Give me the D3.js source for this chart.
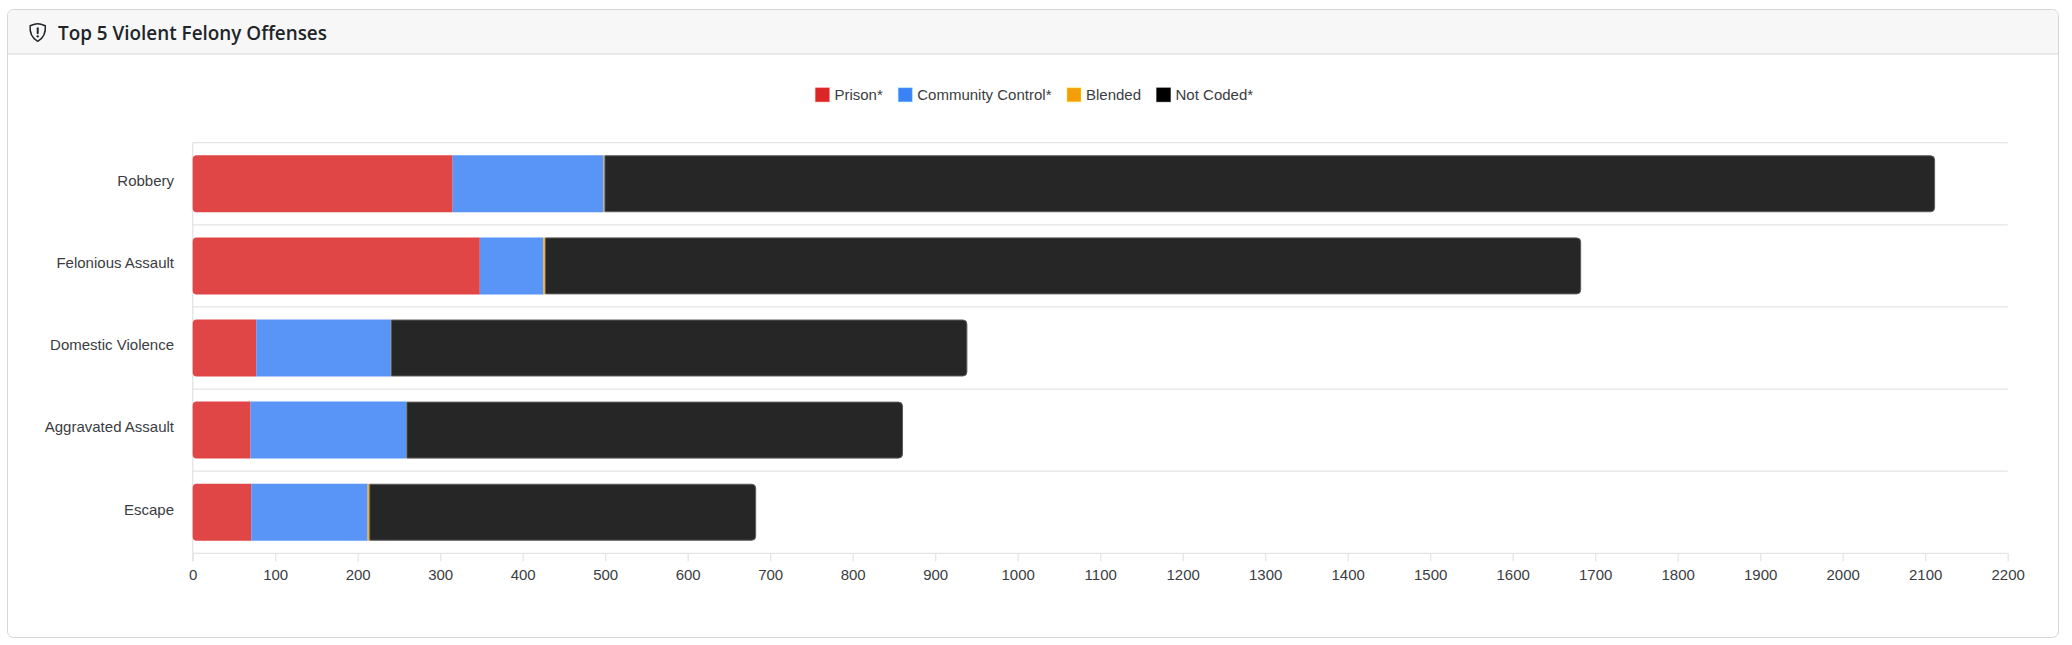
<!DOCTYPE html>
<html>
<head>
<meta charset="utf-8">
<script src="https://cdn.jsdelivr.net/npm/d3@7"></script>
<style>
  html, body { margin: 0; padding: 0; background: #ffffff; }
  svg { display: block; }
</style>
</head>
<body>
<svg id="chart" width="2072" height="645"></svg>
<script>
// ---------- data ----------
const chartTitle = "Top 5 Violent Felony Offenses";
const categories = ["Robbery", "Felonious Assault", "Domestic Violence", "Aggravated Assault", "Escape"];
const seriesNames = ["Prison*", "Community Control*", "Blended", "Not Coded*"];
const prison = [315, 348, 77, 70, 71];
const communityControl = [183, 77, 163, 189, 141];
const blended = [1, 2, 0, 0, 2];
const notCoded = [1613, 1256, 699, 602, 469];
const xTickValues = [0, 100, 200, 300, 400, 500, 600, 700, 800, 900, 1000, 1100,
                     1200, 1300, 1400, 1500, 1600, 1700, 1800, 1900, 2000, 2100, 2200];

// ---------- styles ----------
const barFills = ["rgba(220,38,38,0.85)", "rgba(59,130,246,0.85)", "rgba(245,158,11,0.85)", "rgba(0,0,0,0.85)"];
const legendFills = ["#dc2626", "#3b82f6", "#f59e0b", "#000000"];
const textColor = "#3a3d42";
const gridColor = "#e4e4e4";
const chartFont = "'Liberation Sans', Arial, Helvetica, sans-serif";
const fontSize = 15;

const svg = d3.select("#chart");

// ---------- card ----------
const card = { x: 7.5, y: 9.5, w: 2051, h: 628, r: 6, headerH: 44.5 };
svg.append("rect")
  .attr("x", card.x).attr("y", card.y).attr("width", card.w).attr("height", card.h)
  .attr("rx", card.r).attr("fill", "#ffffff").attr("stroke", "#d6d6d6").attr("stroke-width", 1);
const hx0 = card.x + 0.5, hx1 = card.x + card.w - 0.5, hy0 = card.y + 0.5, hy1 = card.y + card.headerH, hr = card.r - 0.5;
svg.append("path")
  .attr("d", `M${hx0},${hy1} V${hy0 + hr} A${hr},${hr} 0 0 1 ${hx0 + hr},${hy0} H${hx1 - hr} A${hr},${hr} 0 0 1 ${hx1},${hy0 + hr} V${hy1} Z`)
  .attr("fill", "#f7f7f7");
svg.append("line")
  .attr("x1", card.x).attr("x2", card.x + card.w)
  .attr("y1", hy1).attr("y2", hy1)
  .attr("stroke", "#d6d6d6").attr("stroke-width", 1);

// shield icon
const icon = svg.append("g").attr("transform", "translate(27.8,22.6) scale(1.24)");
icon.append("path")
  .attr("d", "M8 0.9 C6.4 0.9 3.6 1.8 1.9 2.5 C1.4 7.6 3.4 12.4 8 15.1 C12.6 12.4 14.6 7.6 14.1 2.5 C12.4 1.8 9.6 0.9 8 0.9 Z")
  .attr("fill", "none").attr("stroke", "#212529").attr("stroke-width", 1.2).attr("stroke-linejoin", "round");
icon.append("line")
  .attr("x1", 8).attr("x2", 8).attr("y1", 4.6).attr("y2", 8.6)
  .attr("stroke", "#212529").attr("stroke-width", 1.6).attr("stroke-linecap", "round");
icon.append("circle").attr("cx", 8).attr("cy", 11.1).attr("r", 0.95).attr("fill", "#212529");

// title
const title = svg.append("text")
  .attr("x", 58).attr("y", 40)
  .attr("font-family", "'Open Sans', 'Noto Sans', sans-serif")
  .attr("font-weight", 600)
  .attr("font-size", 20)
  .attr("fill", "#212529")
  .text(chartTitle);
{
  const w = title.node().getComputedTextLength();
  title.attr("font-size", 20 * 269 / w);
}

// ---------- scales ----------
const plot = { left: 192.7, right: 2007.7, top: 142.7, bottom: 553.3 };
const x = d3.scaleLinear().domain([0, 2200]).range([plot.left, plot.right]);
const y = d3.scaleBand().domain(categories).range([plot.top, plot.bottom]).paddingInner(0).paddingOuter(0);
const barH = y.bandwidth() * 0.694;

// ---------- grid ----------
const grid = svg.append("g");
const boundaries = categories.map(c => y(c)).concat([plot.bottom]);
grid.selectAll("line.h").data(boundaries).join("line")
  .attr("class", "h")
  .attr("x1", plot.left).attr("x2", plot.right)
  .attr("y1", d => d).attr("y2", d => d)
  .attr("stroke", gridColor).attr("stroke-width", 1.3);
grid.append("line")
  .attr("x1", plot.left).attr("x2", plot.left)
  .attr("y1", plot.top).attr("y2", plot.bottom + 8)
  .attr("stroke", gridColor).attr("stroke-width", 1.3);

// x axis
const xAxis = d3.axisBottom(x).tickValues(xTickValues).tickSize(8).tickPadding(8.5).tickFormat(d3.format("d"));
const xg = svg.append("g").attr("transform", `translate(0,${plot.bottom})`).call(xAxis);
xg.select(".domain").remove();
xg.selectAll(".tick line").attr("stroke", gridColor).attr("stroke-width", 1.3);
xg.selectAll(".tick text")
  .attr("font-family", chartFont).attr("font-size", fontSize).attr("fill", textColor);

// y axis labels
const yAxis = d3.axisLeft(y).tickSize(0).tickPadding(18.7);
const yg = svg.append("g").attr("transform", `translate(${plot.left},0)`).call(yAxis);
yg.select(".domain").remove();
yg.selectAll(".tick text")
  .attr("font-family", chartFont).attr("font-size", fontSize).attr("fill", textColor)
  .attr("y", -2.5);

// ---------- bars ----------
const rows = categories.map((c, i) => ({
  category: c,
  "Prison*": prison[i],
  "Community Control*": communityControl[i],
  "Blended": blended[i],
  "Not Coded*": notCoded[i]
}));
const stacked = d3.stack().keys(seriesNames)(rows);

function segPath(x0, x1, y0, y1, rl, rr) {
  const w = x1 - x0;
  rl = Math.max(0, Math.min(rl, w / 2));
  rr = Math.max(0, Math.min(rr, w / 2));
  let d = `M${x0 + rl},${y0} H${x1 - rr}`;
  if (rr) d += ` A${rr},${rr} 0 0 1 ${x1},${y0 + rr}`;
  d += ` V${y1 - rr}`;
  if (rr) d += ` A${rr},${rr} 0 0 1 ${x1 - rr},${y1}`;
  d += ` H${x0 + rl}`;
  if (rl) d += ` A${rl},${rl} 0 0 1 ${x0},${y1 - rl}`;
  d += ` V${y0 + rl}`;
  if (rl) d += ` A${rl},${rl} 0 0 1 ${x0 + rl},${y0}`;
  return d + " Z";
}

const lastIndex = seriesNames.length - 1;
const barsG = svg.append("g");
stacked.forEach((layer, si) => {
  barsG.append("g").selectAll("path").data(layer).join("path")
    .attr("d", d => {
      const x0 = x(d[0]), x1 = x(d[1]);
      if (x1 - x0 <= 0) return null;
      const cy = y(d.data.category) + y.bandwidth() / 2;
      const inset = si === lastIndex ? 0.5 : 0;
      return segPath(x0 + inset, x1 - inset, cy - barH / 2 + inset, cy + barH / 2 - inset,
                     si === 0 ? 4 : 0, si === lastIndex ? 4 : 0);
    })
    .attr("fill", barFills[si])
    .attr("stroke", si === lastIndex ? "#5c5c5c" : "none")
    .attr("stroke-width", 1);
});

// ---------- legend ----------
const legend = svg.append("g");
const box = 15, boxGap = 4.5, itemGap = 15, legendCenter = 1034, legendBoxTop = 87.3;
const items = seriesNames.map((name, i) => {
  const g = legend.append("g");
  g.append("rect")
    .attr("width", box - 1).attr("height", box - 1).attr("x", 0.5).attr("y", 0.5)
    .attr("fill", legendFills[i])
    .attr("stroke", d3.color(legendFills[i]).brighter(1.6).copy({opacity: 0.35}))
    .attr("stroke-width", 1);
  const t = g.append("text")
    .attr("x", box + boxGap).attr("y", box / 2).attr("dy", "0.35em")
    .attr("font-family", chartFont).attr("font-size", fontSize).attr("fill", textColor)
    .text(name);
  return { g, w: box + boxGap + t.node().getComputedTextLength() };
});
const total = d3.sum(items, d => d.w) + itemGap * (items.length - 1);
let cx = legendCenter - total / 2;
items.forEach(it => {
  it.g.attr("transform", `translate(${cx},${legendBoxTop})`);
  cx += it.w + itemGap;
});
</script>
</body>
</html>
